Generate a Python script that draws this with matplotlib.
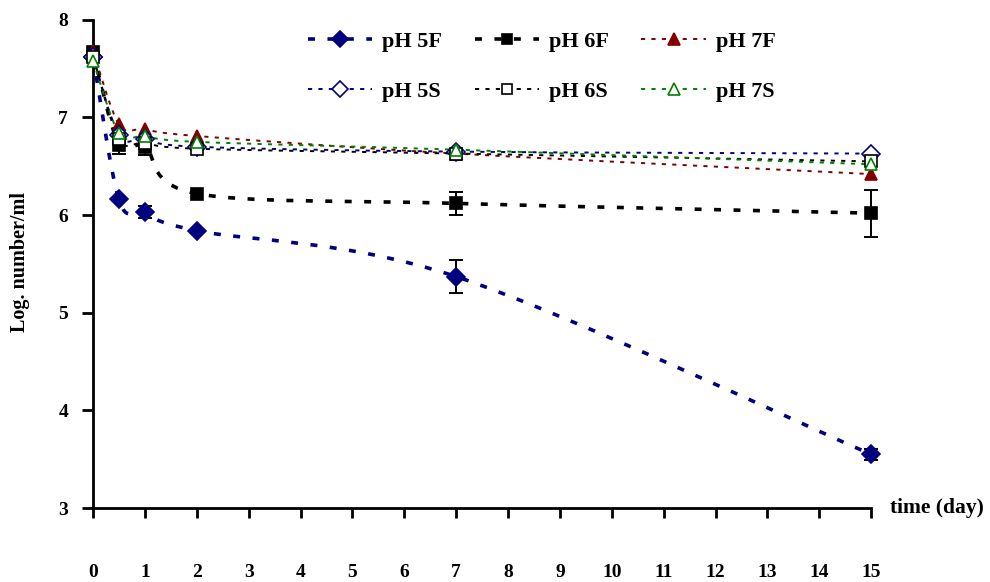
import numpy as np
import matplotlib
matplotlib.use('Agg')
import matplotlib.pyplot as plt
from matplotlib.path import Path
from matplotlib.patches import PathPatch
from matplotlib.lines import Line2D

plt.rcParams['font.family'] = 'Liberation Serif'
plt.rcParams['font.weight'] = 'bold'
plt.rcParams['lines.scale_dashes'] = False

days = [0, 0.5, 1, 2, 7, 15]

ph5f = [7.62, 6.16, 6.03, 5.84, 5.37, 3.55]
ph6f = [7.67, 6.72, 6.70, 6.22, 6.12, 6.02]
ph7f = [7.68, 6.93, 6.88, 6.81, 6.63, 6.42]
ph5s = [7.62, 6.82, 6.78, 6.70, 6.65, 6.63]
ph6s = [7.62, 6.78, 6.74, 6.68, 6.63, 6.55]
ph7s = [7.58, 6.84, 6.81, 6.75, 6.67, 6.52]

err5f = [np.nan, np.nan, 0.06, np.nan, 0.17, 0.06]
err6f = [np.nan, 0.09, 0.08, np.nan, 0.12, 0.24]

navy = '#000080'
dred = '#800000'
green = '#008000'

thick = dict(lw=2.6, dash=(0, (5, 9)))
thin = dict(lw=1.4, dash=(0, (3, 4.5)))

series = [
    # label, y, color, marker, filled, style, err
    ('pH 5F', ph5f, navy, 'D', True, thick, err5f),
    ('pH 6F', ph6f, 'black', 's', True, thick, err6f),
    ('pH 7F', ph7f, dred, '^', True, thin, None),
    ('pH 5S', ph5s, navy, 'D', False, thin, None),
    ('pH 6S', ph6s, 'black', 's', False, thin, None),
    ('pH 7S', ph7s, green, '^', False, thin, None),
]


def smooth_path(x, y):
    # Excel-like smoothed line: cubic Bezier segments through the points
    p = np.column_stack([x, y])
    n = len(p)
    verts = [p[0]]
    codes = [Path.MOVETO]
    for i in range(n - 1):
        prev = p[max(i - 1, 0)]
        nxt = p[min(i + 2, n - 1)]
        c1 = p[i] + (p[i + 1] - prev) / 6
        c2 = p[i + 1] - (nxt - p[i]) / 6
        verts += [c1, c2, p[i + 1]]
        codes += [Path.CURVE4] * 3
    return Path(verts, codes)


fig = plt.figure(figsize=(9.9, 5.82), dpi=100)
ax = fig.add_axes([0.094, 0.127, 0.786, 0.839])

handles = []
for label, y, col, mk, filled, st, err in series:
    ax.add_patch(PathPatch(smooth_path(days, y), fill=False, edgecolor=col,
                           lw=st['lw'], linestyle=st['dash'], zorder=2))
    if err is not None:
        ax.errorbar(days, y, yerr=err, fmt='none', ecolor='black',
                    elinewidth=1.4, capsize=5, capthick=1.4, zorder=3)
    ms = 9 if mk != 's' else 8.5
    fc = col if filled else 'white'
    ax.plot(days, y, linestyle='none', marker=mk, ms=ms, mfc=fc, mec=col,
            mew=1.2, zorder=4)
    handles.append(Line2D([], [], color=col, lw=st['lw'], linestyle=st['dash'],
                          marker=mk, ms=ms - 1, mfc=fc, mec=col, mew=1.2,
                          label=label))

for art in ax.get_children():
    art.set_clip_on(False)

ax.set_xlim(0, 15)
ax.set_ylim(3, 8)
ax.set_xticks(range(0, 16))
ax.set_yticks(range(3, 9))
for s in ['top', 'right']:
    ax.spines[s].set_visible(False)
for s in ['left', 'bottom']:
    ax.spines[s].set_linewidth(2)
ax.tick_params(axis='x', direction='out', length=7, width=2, pad=33,
               labelsize=14)
ax.tick_params(axis='y', direction='out', length=8, width=2, pad=10,
               labelsize=14)
ax.patch.set_visible(False)

ax.text(1.024, 0, 'time (day)', transform=ax.transAxes, ha='left',
        va='center', fontsize=15.5, fontweight='bold')
fig.text(0.02, 1 - 262 / 582, 'Log. number/ml', rotation=90, ha='center',
         va='center', fontsize=14.5, fontweight='bold')

order = [0, 3, 1, 4, 2, 5]
fig.legend([handles[i] for i in order], [handles[i].get_label() for i in order],
           ncol=3, loc='upper left', bbox_to_anchor=(308 / 990, 1 - 31 / 582),
           bbox_transform=fig.transFigure, borderpad=0, borderaxespad=0,
           frameon=False, handlelength=2.9, handletextpad=0.45,
           columnspacing=1.45, labelspacing=1.35,
           prop={'weight': 'bold', 'size': 16})

fig.savefig('out.png', dpi=100)
